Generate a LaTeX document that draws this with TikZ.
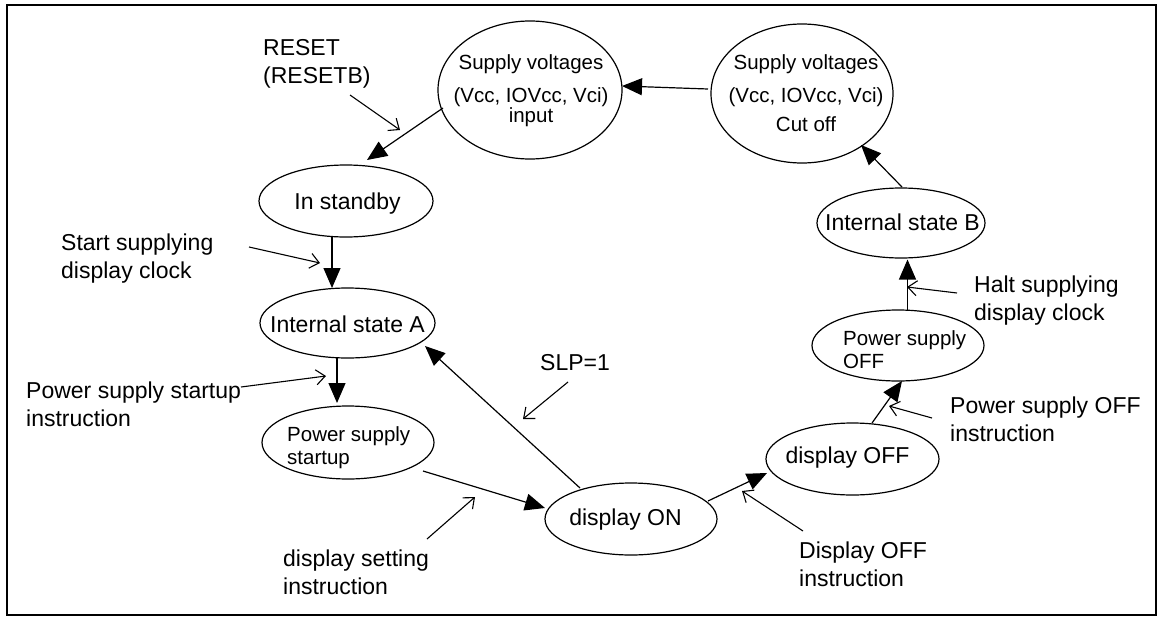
\documentclass[tikz,border=0pt]{standalone}
\usepackage{fontspec}
\setmainfont{Liberation Sans}
\usetikzlibrary{shapes.geometric,arrows.meta,calc}

% multi-line text block whose baseline is that of its first line
\newcommand{\txtlines}[2]{\begin{tabular}[t]{@{}#1@{}}#2\end{tabular}}

\begin{document}
\begin{tikzpicture}[x=1pt,y=-1pt,
  stnode/.style 2 args={ellipse,draw,line width=1.2pt,inner sep=0pt,
    minimum width=#1,minimum height=#2},
  bigtxt/.style={inner sep=0pt,font=\fontsize{23}{28}\selectfont},
  smalltxt/.style={inner sep=0pt,font=\fontsize{20.5}{24}\selectfont},
  flow/.style={line width=1.2pt,-{Triangle[length=20pt,width=17pt]}},
  cue/.style={line width=1.1pt,-{Straight Barb[length=9pt,width=15pt]}}]

\useasboundingbox (0,0) rectangle (1157,616);
\draw[line width=2pt] (7,5) rectangle (1155.5,614.5);

% states
\node[stnode={184pt}{138pt}] (sin) at (530,90) {};
\node[stnode={182pt}{139pt}] (sco) at (802,93.5) {};
\node[stnode={174pt}{72pt}]  (stb) at (346,201) {};
\node[stnode={175pt}{70pt}]  (isa) at (347.5,323) {};
\node[stnode={172pt}{73pt}]  (pss) at (348,442.5) {};
\node[stnode={172pt}{72pt}]  (don) at (631,519) {};
\node[stnode={173pt}{72pt}]  (dof) at (852.5,459) {};
\node[stnode={172pt}{71pt}]  (pof) at (898,345.5) {};
\node[stnode={168pt}{70pt}]  (isb) at (901,223) {};

% state texts
\node[smalltxt,anchor=base] (sin-t) at (531,69)
  {\txtlines{c}{Supply voltages\\[9pt](Vcc, IOVcc, Vci)\\[-3.5pt]input}};
\node[smalltxt,anchor=base] (sco-t) at (806,69)
  {\txtlines{c}{Supply voltages\\[9pt](Vcc, IOVcc, Vci)\\[5pt]Cut off}};
\node[bigtxt,anchor=base] (stb-t) at (347.5,209.5) {In standby};
\node[bigtxt,anchor=base] (isa-t) at (347.5,332) {Internal state A};
\node[smalltxt,anchor=base west] (pss-t) at (287,441)
  {\txtlines{l}{Power supply\\[-1pt]startup}};
\node[bigtxt,anchor=base] (don-t) at (625.5,525) {display ON};
\node[bigtxt,anchor=base] (dof-t) at (847.5,463) {display OFF};
\node[smalltxt,anchor=base west] (pof-t) at (843,345)
  {\txtlines{l}{Power supply\\[-1pt]OFF}};
\node[bigtxt,anchor=base] (isb-t) at (902.5,230) {Internal state B};

% transitions
\draw[flow] ($(sin)+(-87,18)$)   -- ($(stb)+(21,-41)$);
\draw[flow] ($(stb)+(-14,36)$)   -- ($(isa)+(-15.5,-35)$);
\draw[flow] ($(isa)+(-10.5,35)$) -- ($(pss)+(-11,-39.5)$);
\draw[flow] ($(pss)+(75,28.5)$)  -- ($(don)+(-86,-11)$);
\draw[flow] ($(don)+(-51,-31)$)  -- ($(isa)+(77.5,23)$);
\draw[flow] ($(don)+(77,-18)$)   -- ($(dof)+(-85.5,14)$);
\draw[flow] ($(dof)+(19.5,-36)$) -- ($(pof)+(4,35.5)$);
\draw[flow] ($(pof)+(9.5,-35.5)$) -- ($(isb)+(6.5,36.5)$);
\draw[flow] ($(isb)+(1,-36)$)    -- ($(sco)+(59,51.5)$);
\draw[flow] ($(sco)+(-94,-4.5)$) -- ($(sin)+(92,-4)$);

% trigger labels
\node[bigtxt,anchor=base west] (l-reset) at (263,55)
  {\txtlines{l}{RESET\\(RESETB)}};
\node[bigtxt,anchor=base west] (l-clkon) at (61,250)
  {\txtlines{l}{Start supplying\\display clock}};
\node[bigtxt,anchor=base west] (l-pwron) at (26,398)
  {\txtlines{l}{Power supply startup\\instruction}};
\node[bigtxt,anchor=base west] (l-dset) at (283,566)
  {\txtlines{l}{display setting\\instruction}};
\node[bigtxt,anchor=base west] (l-slp) at (540,370) {SLP=1};
\node[bigtxt,anchor=base west] (l-dispoff) at (799,558)
  {\txtlines{l}{Display OFF\\instruction}};
\node[bigtxt,anchor=base west] (l-pwroff) at (950,413)
  {\txtlines{l}{Power supply OFF\\instruction}};
\node[bigtxt,anchor=base west] (l-clkoff) at (974,292)
  {\txtlines{l}{Halt supplying\\display clock}};

% trigger pointers
\coordinate (c-reset-a) at (350,95);   \coordinate (c-reset-b) at (400,130);
\coordinate (c-clkon-a) at (249,247);  \coordinate (c-clkon-b) at (320,263);
\coordinate (c-pwron-a) at (241,387);  \coordinate (c-pwron-b) at (326,376);
\coordinate (c-dset-a) at (427,539);   \coordinate (c-dset-b) at (475,497);
\coordinate (c-slp-a) at (568,382);    \coordinate (c-slp-b) at (523,419);
\coordinate (c-doff-a) at (803,531);   \coordinate (c-doff-b) at (742,491);
\coordinate (c-poff-a) at (932,418);   \coordinate (c-poff-b) at (889,406);
\coordinate (c-clkoff-a) at (957,293); \coordinate (c-clkoff-b) at (907,287);

\draw[cue] (c-reset-a) -- (c-reset-b);
\draw[cue] (c-clkon-a) -- (c-clkon-b);
\draw[cue] (c-pwron-a) -- (c-pwron-b);
\draw[cue] (c-dset-a) -- (c-dset-b);
\draw[cue] (c-slp-a) -- (c-slp-b);
\draw[cue] (c-doff-a) -- (c-doff-b);
\draw[cue] (c-poff-a) -- (c-poff-b);
\draw[cue] (c-clkoff-a) -- (c-clkoff-b);
\end{tikzpicture}
\end{document}
